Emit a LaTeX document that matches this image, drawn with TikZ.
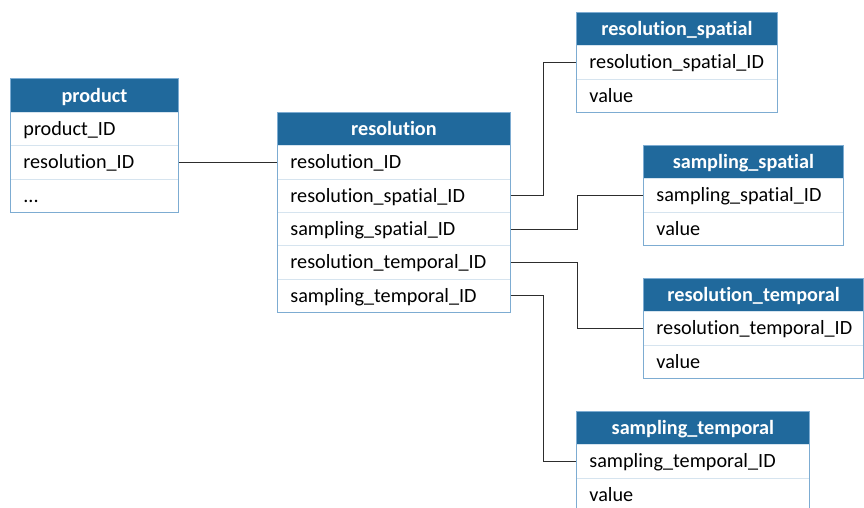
\documentclass[tikz,border=0pt]{standalone}
\usepackage{fontspec}
\setmainfont{Carlito}[Ligatures={NoCommon}]
\definecolor{hdrblue}{RGB}{32,105,156}
\definecolor{bordcol}{RGB}{125,172,210}
\definecolor{sepcol}{RGB}{214,228,239}
\definecolor{conncol}{RGB}{45,45,45}
\newcommand{\threedots}{...}
\tikzset{
  hdr/.style={anchor=north west, fill=hdrblue, draw=hdrblue, text=white,
    font=\bfseries\fontsize{20.2}{24}\selectfont, align=center,
    minimum height=33.33pt, inner xsep=13pt, inner ysep=0pt,
    text height=16pt, text depth=3.3pt, line width=0.8pt},
  rowbox/.style={anchor=north west, draw=sepcol, fill=white,
    font=\fontsize{20.2}{24}\selectfont, align=left,
    minimum height=33.33pt, inner xsep=13pt, inner ysep=0pt,
    text height=16pt, text depth=3.3pt, line width=0.8pt},
  outerbox/.style={draw=bordcol, line width=1pt},
  conn/.style={draw=conncol, line width=1.1pt}
}
\newcommand{\erdtab}[7]{%
  \pgfmathsetmacro{\tabtw}{#4-26}
  \node[hdr, minimum width=#4pt, text width=\tabtw pt] (#1-0) at (#2,-#3) {#5};
  \foreach \rowtext [count=\ri] in {#6} {
    \pgfmathsetmacro{\rowy}{#3+\ri*33.33}
    \node[rowbox, minimum width=#4pt, text width=\tabtw pt] (#1-\ri) at (#2,-\rowy) {\rowtext};
  }
  \draw[outerbox] (#2,-#3) rectangle ({#2+#4},-#7);
}
\begin{document}
\begin{tikzpicture}[x=1pt,y=1pt]
\useasboundingbox (0,0) rectangle (864,-507);
\clip (0,0) rectangle (864,-507);
\erdtab{prod}{10}{78.67}{168}{product}{product\_ID,resolution\_ID,\threedots}{212}
\erdtab{res}{277}{112}{233}{resolution}{resolution\_ID,resolution\_spatial\_ID,sampling\_spatial\_ID,resolution\_temporal\_ID,sampling\_temporal\_ID}{312}
\erdtab{rsp}{576}{12}{201}{resolution\_spatial}{resolution\_spatial\_ID,value}{112}
\erdtab{ssp}{643}{145}{200}{sampling\_spatial}{sampling\_spatial\_ID,value}{245}
\erdtab{rtm}{643}{278}{220.3}{resolution\_temporal}{resolution\_temporal\_ID,value}{378}
\erdtab{stm}{576}{411}{233}{sampling\_temporal}{sampling\_temporal\_ID,value}{520}
\draw[conn] (prod-2.east) -- (prod-2.east -| res-1.west);
\draw[conn] (res-2.east) -- ++(33,0) |- (rsp-1.west);
\draw[conn] (res-3.east) -- ++(67,0) |- (ssp-1.west);
\draw[conn] (res-4.east) -- ++(67,0) |- (rtm-1.west);
\draw[conn] (res-5.east) -- ++(33,0) |- (stm-1.west);
\end{tikzpicture}
\end{document}
